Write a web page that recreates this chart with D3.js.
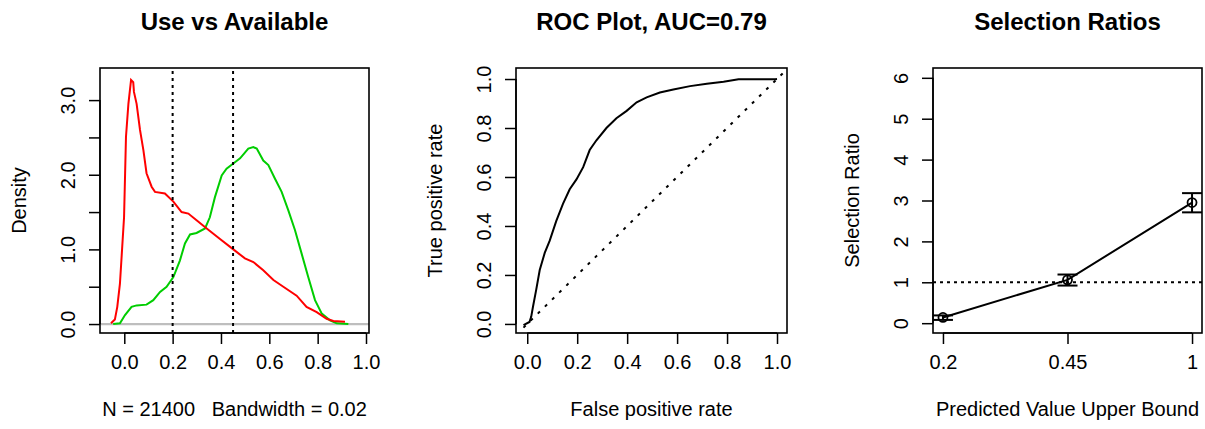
<!DOCTYPE html>
<html><head><meta charset="utf-8">
<script src="https://cdn.jsdelivr.net/npm/d3@7"></script>
<style>
html,body{margin:0;padding:0;background:#fff;}
text{font-family:"Liberation Sans",Arial,sans-serif;fill:#000;white-space:pre;}
</style></head>
<body><svg id="c" width="1205" height="429"></svg>
<script>
// ---------- data ----------
const titles = ["Use vs Available", "ROC Plot, AUC=0.79", "Selection Ratios"];
const xLabels = ["N = 21400   Bandwidth = 0.02", "False positive rate", "Predicted Value Upper Bound"];
const yLabels = ["Density", "True positive rate", "Selection Ratio"];

// density of available points (red)
const availX = [-0.055,-0.039,-0.029,-0.018,-0.001,0.007,0.017,0.028,0.037,0.040,0.051,0.065,0.079,0.092,0.113,0.127,0.168,0.203,0.237,0.265,0.299,0.341,0.396,0.451,0.499,0.534,0.575,0.617,0.658,0.713,0.754,0.796,0.837,0.865,0.913];
const availY = [0.01,0.06,0.23,0.54,1.43,2.51,2.95,3.27,3.24,3.11,2.95,2.60,2.33,2.02,1.84,1.77,1.75,1.64,1.50,1.48,1.39,1.28,1.14,1.00,0.88,0.83,0.72,0.59,0.50,0.38,0.23,0.16,0.07,0.04,0.03];
// density of used points (green)
const usedX = [-0.046,-0.018,0.003,0.030,0.051,0.092,0.120,0.148,0.175,0.203,0.230,0.251,0.272,0.299,0.334,0.354,0.375,0.403,0.423,0.451,0.479,0.513,0.534,0.548,0.575,0.596,0.623,0.651,0.679,0.706,0.734,0.761,0.789,0.817,0.851,0.879,0.927];
const usedY = [0.00,0.01,0.12,0.23,0.25,0.26,0.32,0.43,0.50,0.63,0.85,1.08,1.20,1.22,1.28,1.43,1.70,1.99,2.08,2.15,2.22,2.35,2.37,2.35,2.19,2.13,1.95,1.77,1.52,1.26,0.94,0.63,0.32,0.14,0.05,0.01,0.00];
const cutLines = [0.2, 0.45];

// ROC curve
const fpr = [-0.015,0.009,0.016,0.023,0.036,0.050,0.070,0.090,0.116,0.143,0.170,0.197,0.224,0.250,0.277,0.317,0.357,0.398,0.438,0.478,0.531,0.585,0.652,0.719,0.786,0.846,0.993,1.0];
const tpr = [-0.005,0.008,0.03,0.07,0.14,0.22,0.29,0.34,0.42,0.49,0.55,0.59,0.64,0.71,0.75,0.80,0.84,0.87,0.905,0.925,0.945,0.957,0.971,0.981,0.989,0.999,0.999,1.0];
const diagX = [-0.015, 1.03];

// selection ratios
const binLabels = ["0.2", "0.45", "1"];
const ratio = [0.14, 1.06, 2.95];
const ratioLo = [0.08, 0.92, 2.71];
const ratioHi = [0.19, 1.19, 3.18];

// tick values
const p1xTicks = [0,0.2,0.4,0.6,0.8,1.0];
const p1yTicks = [0,0.5,1,1.5,2,2.5,3];
const p1yLabeled = [0,1,2,3];
const p2Ticks = [0,0.2,0.4,0.6,0.8,1.0];
const p3yTicks = [0,1,2,3,4,5,6];

// ---------- layout ----------
const svg = d3.select("#c");
const boxes = [
  {x0:100, x1:369, y0:68, y1:333, xd:[-0.1005,1.0124], yd:[-0.12,3.43]},
  {x0:516, x1:787, y0:68, y1:333, xd:[-0.045,1.04], yd:[-0.037,1.045]},
  {x0:933, x1:1202, y0:68, y1:333, xd:[0.92,3.08], yd:[-0.24,6.24]}
];
const FS = 20;

function panel(i, xTicks, xFmt, yTicks, yFmt) {
  const b = boxes[i];
  const x = d3.scaleLinear().domain(b.xd).range([b.x0, b.x1]);
  const y = d3.scaleLinear().domain(b.yd).range([b.y1, b.y0]);
  const g = svg.append("g");
  const clipId = "clip" + i;
  svg.append("clipPath").attr("id", clipId).append("rect")
    .attr("x", b.x0).attr("y", b.y0).attr("width", b.x1 - b.x0).attr("height", b.y1 - b.y0);
  const plot = g.append("g").attr("clip-path", `url(#${clipId})`);
  // x axis
  const xa = g.append("g").attr("transform", `translate(0,${b.y1})`)
    .call(d3.axisBottom(x).tickValues(xTicks).tickFormat(xFmt).tickSize(11).tickPadding(11));
  xa.select(".domain").attr("stroke-width", 1.5).attr("d", `M${x(xTicks[0])},0H${x(xTicks[xTicks.length-1])}`);
  xa.selectAll(".tick line").attr("stroke-width", 1.5);
  xa.selectAll(".tick text").attr("font-size", FS).attr("font-family", "Liberation Sans, Arial");
  // y axis
  const ya = g.append("g").attr("transform", `translate(${b.x0},0)`)
    .call(d3.axisLeft(y).tickValues(yTicks).tickFormat(yFmt).tickSize(11).tickPadding(0));
  ya.select(".domain").attr("stroke-width", 1.5).attr("d", `M0,${y(yTicks[0])}V${y(yTicks[yTicks.length-1])}`);
  ya.selectAll(".tick line").attr("stroke-width", 1.5);
  ya.selectAll(".tick text").attr("font-size", FS).attr("font-family", "Liberation Sans, Arial")
    .attr("text-anchor", "middle").attr("dy", 0).attr("x", 0)
    .attr("transform", "translate(-25,0) rotate(-90)");
  // box
  g.append("rect").attr("x", b.x0).attr("y", b.y0).attr("width", b.x1 - b.x0).attr("height", b.y1 - b.y0)
    .attr("fill", "none").attr("stroke", "#000").attr("stroke-width", 1.6);
  // titles
  const cx = (b.x0 + b.x1) / 2, cy = (b.y0 + b.y1) / 2;
  g.append("text").attr("x", cx).attr("y", 30).attr("text-anchor", "middle")
    .attr("font-size", 24).attr("font-weight", "bold").text(titles[i]);
  g.append("text").attr("x", cx).attr("y", 416).attr("text-anchor", "middle")
    .attr("xml:space", "preserve").attr("font-size", FS).text(xLabels[i]);
  g.append("text").attr("transform", `translate(${b.x0 - 74},${cy}) rotate(-90)`)
    .attr("text-anchor", "middle").attr("font-size", FS).text(yLabels[i]);
  return {x, y, plot, g};
}

// ---------- panel 1 ----------
{
  const f1 = d3.format(".1f");
  const p = panel(0, p1xTicks, f1, p1yTicks, d => p1yLabeled.includes(d) ? f1(d) : "");
  const line = d3.line().x(d => p.x(d[0])).y(d => p.y(d[1]));
  p.plot.append("line").attr("x1", p.x(boxes[0].xd[0])).attr("x2", p.x(boxes[0].xd[1]))
    .attr("y1", p.y(0)).attr("y2", p.y(0)).attr("stroke", "#bebebe").attr("stroke-width", 2.2);
  p.plot.append("path").datum(d3.zip(usedX, usedY)).attr("d", line)
    .attr("fill", "none").attr("stroke", "#00CD00").attr("stroke-width", 2);
  p.plot.append("path").datum(d3.zip(availX, availY)).attr("d", line)
    .attr("fill", "none").attr("stroke", "#FF0000").attr("stroke-width", 2);
  p.plot.selectAll("line.cut").data(cutLines).join("line").attr("class", "cut")
    .attr("x1", d => p.x(d)).attr("x2", d => p.x(d))
    .attr("y1", p.y(boxes[0].yd[0])).attr("y2", p.y(boxes[0].yd[1]))
    .attr("stroke", "#000").attr("stroke-width", 2).attr("stroke-dasharray", "3,4");
}

// ---------- panel 2 ----------
{
  const f1 = d3.format(".1f");
  const p = panel(1, p2Ticks, f1, p2Ticks, f1);
  const line = d3.line().x(d => p.x(d[0])).y(d => p.y(d[1]));
  p.plot.append("path").datum(diagX.map(v => [v, v])).attr("d", line)
    .attr("fill", "none").attr("stroke", "#000").attr("stroke-width", 2).attr("stroke-dasharray", "3,7");
  p.plot.append("path").datum(d3.zip(fpr, tpr)).attr("d", line)
    .attr("fill", "none").attr("stroke", "#000").attr("stroke-width", 2);
}

// ---------- panel 3 ----------
{
  const idx = binLabels.map((d, i) => i + 1);
  const p = panel(2, idx, (d) => binLabels[d - 1], p3yTicks, d3.format("d"));
  const line = d3.line().x((d, i) => p.x(idx[i])).y(d => p.y(d));
  p.plot.append("line").attr("x1", p.x(boxes[2].xd[0])).attr("x2", p.x(boxes[2].xd[1]))
    .attr("y1", p.y(1)).attr("y2", p.y(1))
    .attr("stroke", "#000").attr("stroke-width", 2).attr("stroke-dasharray", "3,4");
  p.plot.append("path").datum(ratio).attr("d", line)
    .attr("fill", "none").attr("stroke", "#000").attr("stroke-width", 2);
  const eb = p.plot.selectAll("g.eb").data(idx).join("g").attr("class", "eb");
  eb.append("line").attr("x1", d => p.x(d)).attr("x2", d => p.x(d))
    .attr("y1", (d, i) => p.y(ratioLo[i])).attr("y2", (d, i) => p.y(ratioHi[i]))
    .attr("stroke", "#000").attr("stroke-width", 2);
  eb.append("line").attr("x1", d => p.x(d) - 10).attr("x2", d => p.x(d) + 10)
    .attr("y1", (d, i) => p.y(ratioLo[i])).attr("y2", (d, i) => p.y(ratioLo[i]))
    .attr("stroke", "#000").attr("stroke-width", 2);
  eb.append("line").attr("x1", d => p.x(d) - 10).attr("x2", d => p.x(d) + 10)
    .attr("y1", (d, i) => p.y(ratioHi[i])).attr("y2", (d, i) => p.y(ratioHi[i]))
    .attr("stroke", "#000").attr("stroke-width", 2);
  eb.append("circle").attr("cx", d => p.x(d)).attr("cy", (d, i) => p.y(ratio[i])).attr("r", 4.5)
    .attr("fill", "none").attr("stroke", "#000").attr("stroke-width", 1.8);
}
</script></body></html>
